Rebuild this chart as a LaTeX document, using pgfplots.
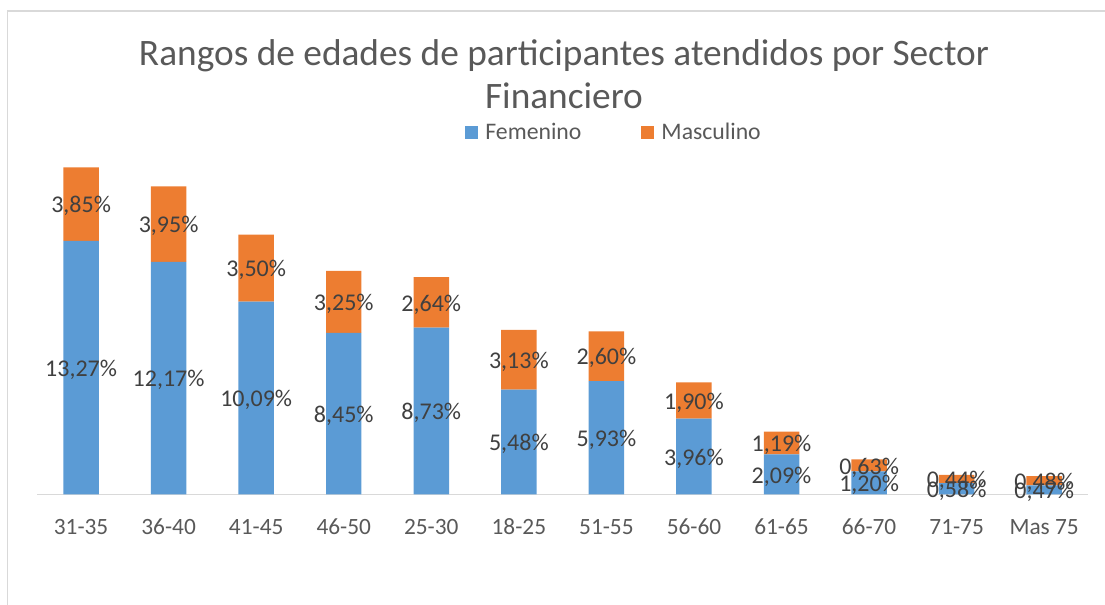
\documentclass[border=0pt]{standalone}
\usepackage{pgfplots}
\pgfplotsset{compat=1.18}
\usepackage{pgfplotstable}
\usepackage{fontspec}
\setmainfont{Carlito}
\definecolor{cfem}{HTML}{5B9BD5}
\definecolor{cmas}{HTML}{ED7D31}
\definecolor{txt}{HTML}{404040}
\definecolor{ttl}{HTML}{595959}
\definecolor{frm}{HTML}{D9D9D9}

\pgfplotstableread{
x v
0 13.27
1 12.17
2 10.09
3 8.45
4 8.73
5 5.48
6 5.93
7 3.96
8 2.09
9 1.20
10 0.58
11 0.47
}\fem
\pgfplotstableread{
x v
0 3.85
1 3.95
2 3.50
3 3.25
4 2.64
5 3.13
6 2.60
7 1.90
8 1.19
9 0.63
10 0.44
11 0.48
}\mas

\begin{document}
\begin{tikzpicture}
\useasboundingbox (0pt,0pt) rectangle (828.75pt,-453pt);
\draw[frm, line width=1.1pt] (5.625pt,-465pt) -- (5.625pt,-8.25pt) -- (840pt,-8.25pt);
\node[anchor=base, font=\fontsize{28pt}{33pt}\selectfont, text=ttl, inner sep=0pt] at (423pt,-49.3pt) {Rangos de edades de participantes atendidos por Sector};
\node[anchor=base, font=\fontsize{28pt}{33pt}\selectfont, text=ttl, inner sep=0pt] at (423pt,-81.2pt) {Financiero};
\begin{axis}[
  at={(27.975pt,-370.725pt)}, anchor=south west,
  scale only axis, width=788pt, height=286.5pt,
  ybar stacked, bar width=26.6pt,
  xmin=-0.5, xmax=11.5, ymin=0, ymax=20,
  axis x line*=bottom, axis y line=none,
  x axis line style={frm, line width=1.1pt},
  xtick={0,...,11},
  xticklabels={31-35,36-40,41-45,46-50,25-30,18-25,51-55,56-60,61-65,66-70,71-75,Mas 75},
  major tick length=0pt,
  xticklabel style={font=\fontsize{17.5pt}{20pt}\selectfont, text=ttl, anchor=base, yshift=-29.8pt},
  ytick=\empty,
  /pgf/number format/assume math mode=true,
  point meta=explicit,
  nodes near coords={\pgfmathprintnumber[fixed,fixed zerofill,precision=2,use comma]{\pgfplotspointmeta}\%},
  every node near coord/.append style={anchor=center, yshift=-1.5pt, font=\fontsize{18pt}{20pt}\selectfont, text=txt, inner sep=0pt},
  legend style={at={(0.5493,0.948)}, anchor=center, draw=none, fill=none, legend columns=2,
    font=\fontsize{17.8pt}{20pt}\selectfont, text=ttl,
    /tikz/every even column/.append style={column sep=43pt}},
  clip=false,
]
\addplot[fill=cfem, draw=none, legend image code/.code={\fill[cfem] (0pt,-4.9pt) rectangle (9.75pt,4.9pt); \path (13pt,0pt);}] table[x=x, y=v, meta=v] {\fem};
\addlegendentry{Femenino}
\addplot[fill=cmas, draw=none, legend image code/.code={\fill[cmas] (0pt,-4.9pt) rectangle (9.75pt,4.9pt); \path (13pt,0pt);}] table[x=x, y=v, meta=v] {\mas};
\addlegendentry{Masculino}
\end{axis}
\end{tikzpicture}
\end{document}
